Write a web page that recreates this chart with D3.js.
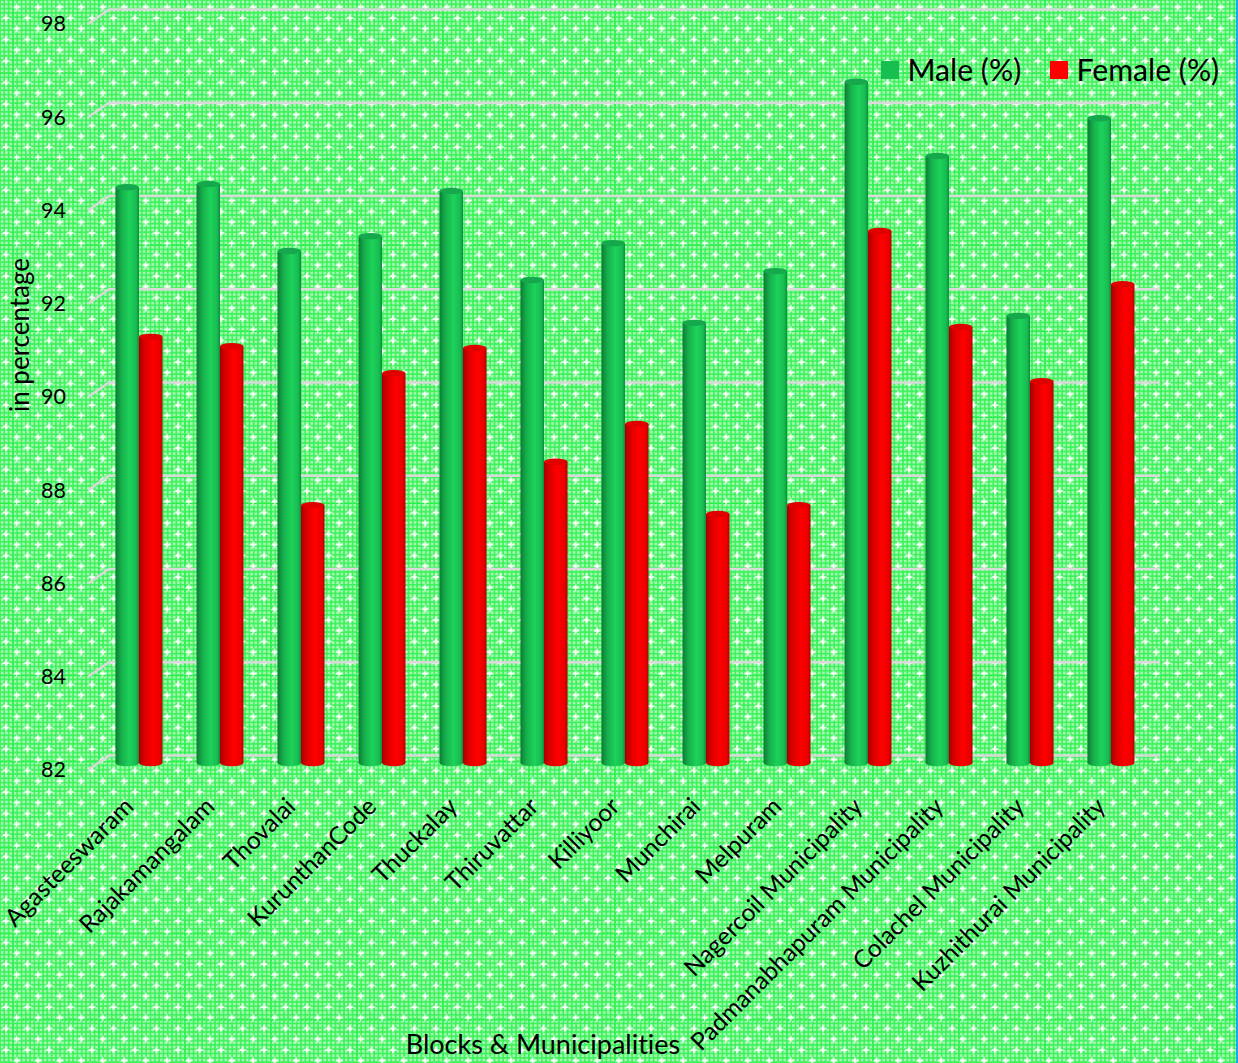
<!DOCTYPE html>
<html>
<head>
<meta charset="utf-8">
<script src="https://cdn.jsdelivr.net/npm/d3@7"></script>
<style>
html,body{margin:0;padding:0;background:#66f27c;overflow:hidden}
svg{display:block}
text{font-family:Lato,"Open Sans",sans-serif;fill:#000;font-variant-ligatures:none}
</style>
</head>
<body>
<script>
const categories = ["Agasteeswaram","Rajakamangalam","Thovalai","KurunthanCode","Thuckalay","Thiruvattar","Killiyoor","Munchirai","Melpuram","Nagercoil Municipality","Padmanabhapuram Municipality","Colachel Municipality","Kuzhithurai Municipality"];
const maleValues = [94.35,94.42,92.98,93.30,94.27,92.36,93.15,91.44,92.55,96.61,95.02,91.59,95.83];
const femaleValues = [91.14,90.94,87.53,90.36,90.90,88.46,89.27,87.34,87.53,93.41,91.35,90.19,92.27];
const seriesNames = ["Male (%)","Female (%)"];
const seriesColors = ["#17bf50","#ff0000"];
const yTicks = [82,84,86,88,90,92,94,96,98];
const xTitle = "Blocks & Municipalities";
const yTitle = "in percentage";

const W = 1238, H = 1063;
const svg = d3.select("body").append("svg").attr("width",W).attr("height",H);
const defs = svg.append("defs");

// background texture
const chk = defs.append("pattern").attr("id","chk").attr("patternUnits","userSpaceOnUse")
  .attr("width",4.3).attr("height",4.3);
chk.append("rect").attr("width",4.3).attr("height",4.3).attr("fill","#36f256");
chk.append("rect").attr("x",0.75).attr("y",0.75).attr("width",2.8).attr("height",2.8).attr("fill","#a4f8b0");
const st = defs.append("pattern").attr("id","st").attr("patternUnits","userSpaceOnUse")
  .attr("width",21.5).attr("height",21.5).attr("patternTransform","translate(16.7,7.3)");
const star = "M0,-4.6L1.2,-1.2L4.6,0L1.2,1.2L0,4.6L-1.2,1.2L-4.6,0L-1.2,-1.2Z";
[[0,0],[21.5,0],[0,21.5],[21.5,21.5],[10.75,10.75]].forEach(p=>{
  st.append("path").attr("d",star).attr("transform",`translate(${p[0]},${p[1]})`).attr("fill","#fff").attr("fill-opacity",0.92);
});
svg.append("rect").attr("width",W).attr("height",H).attr("fill","url(#chk)");
svg.append("rect").attr("width",W).attr("height",H).attr("fill","url(#st)");
const seam = svg.append("g").attr("stroke","#26f048").attr("stroke-width",1.2).attr("stroke-dasharray","3 1.3");
d3.range(13,W,86).forEach(x=>seam.append("line").attr("x1",x).attr("x2",x).attr("y1",0).attr("y2",H));
d3.range(73,H,86.1).forEach(y=>seam.append("line").attr("x1",0).attr("x2",W).attr("y1",y).attr("y2",y));
svg.append("rect").attr("x",W-2).attr("y",0).attr("width",2).attr("height",H).attr("fill","#12a9ee");

// scales
const yFront = d3.scaleLinear().domain([82,98]).range([770,24]);
const yBar = d3.scaleLinear().domain([82,98]).range([763,17]);
const x0 = d3.scaleBand().domain(categories).range([98.5,1151.5]);
const barW = 23.5;
const x1 = d3.scaleBand().domain(seriesNames).range([x0.bandwidth()/2-barW, x0.bandwidth()/2+barW]);
const depthX = 21, depthY = -14.5, backEnd = 1160;

// gridlines (with perspective stubs)
svg.append("g").selectAll("path").data(yTicks).join("path")
  .attr("d",t=>`M88,${yFront(t)}L${88+depthX},${yFront(t)+depthY}L${backEnd},${yFront(t)+depthY}`)
  .attr("fill","none").attr("stroke","#d9d9d9").attr("stroke-width",2.6);

// gradients
function grad(id,edgeL,mid,edgeR){
  const g = defs.append("linearGradient").attr("id",id);
  g.append("stop").attr("offset","0%").attr("stop-color",edgeL);
  g.append("stop").attr("offset","25%").attr("stop-color",d3.interpolateRgb(edgeL,mid)(0.6));
  g.append("stop").attr("offset","60%").attr("stop-color",mid);
  g.append("stop").attr("offset","88%").attr("stop-color",d3.interpolateRgb(edgeR,mid)(0.7));
  g.append("stop").attr("offset","100%").attr("stop-color",edgeR);
}
grad("g0","#0b7a35","#1dd25a","#0d8a3e");
grad("g1","#a80000","#ff0000","#b40000");

const rows = categories.map((c,i)=>({c,vals:[maleValues[i],femaleValues[i]]}));
const ry = 3.2;
const groups = svg.append("g").selectAll("g").data(rows).join("g")
  .attr("transform",d=>`translate(${x0(d.c)},0)`);
seriesNames.forEach((s,k)=>{
  const xl = x1(s);
  groups.append("path")
    .attr("d",d=>{
      const top = yBar(d.vals[k]), bot = yBar(82);
      return `M${xl},${top}L${xl},${bot}A${barW/2},${ry} 0 0 0 ${xl+barW},${bot}L${xl+barW},${top}Z`;
    })
    .attr("fill",`url(#g${k})`);
  groups.append("ellipse")
    .attr("cx",xl+barW/2).attr("cy",d=>yBar(d.vals[k]))
    .attr("rx",barW/2).attr("ry",ry)
    .attr("fill",k===0?"#16a84c":"#e00000");
});

// axes
const yAxis = d3.axisLeft(yFront).tickValues(yTicks).tickSize(0).tickPadding(0);
const gy = svg.append("g").attr("transform","translate(66,0)").call(yAxis);
gy.select(".domain").remove();
gy.selectAll("text").style("font-size","21.5px").style("font-family","Lato,sans-serif");

const xAxis = d3.axisBottom(x0).tickSize(0).tickPadding(0);
const gx = svg.append("g").attr("transform","translate(0,793)").call(xAxis);
gx.select(".domain").remove();
gx.selectAll("text")
  .style("font-size","24.5px").style("font-family","Lato,sans-serif")
  .attr("text-anchor","end").attr("dy",0).attr("y",0).attr("x",0)
  .attr("transform",`translate(-4,15) rotate(-45)`);

svg.append("text").attr("x",543).attr("y",1054).attr("text-anchor","middle").style("font-size","27px").text(xTitle);
svg.append("text").attr("transform","translate(29,335) rotate(-90)").attr("text-anchor","middle").style("font-size","26px").text(yTitle);

// legend
const legX = [881,1050];
const leg = svg.append("g").selectAll("g").data(seriesNames).join("g")
  .attr("transform",(d,i)=>`translate(${legX[i]},61)`);
leg.append("rect").attr("width",18).attr("height",18).attr("fill",(d,i)=>seriesColors[i]);
leg.append("text").attr("x",26.5).attr("y",19.5).style("font-size","30.2px").text(d=>d);
</script>
</body>
</html>
